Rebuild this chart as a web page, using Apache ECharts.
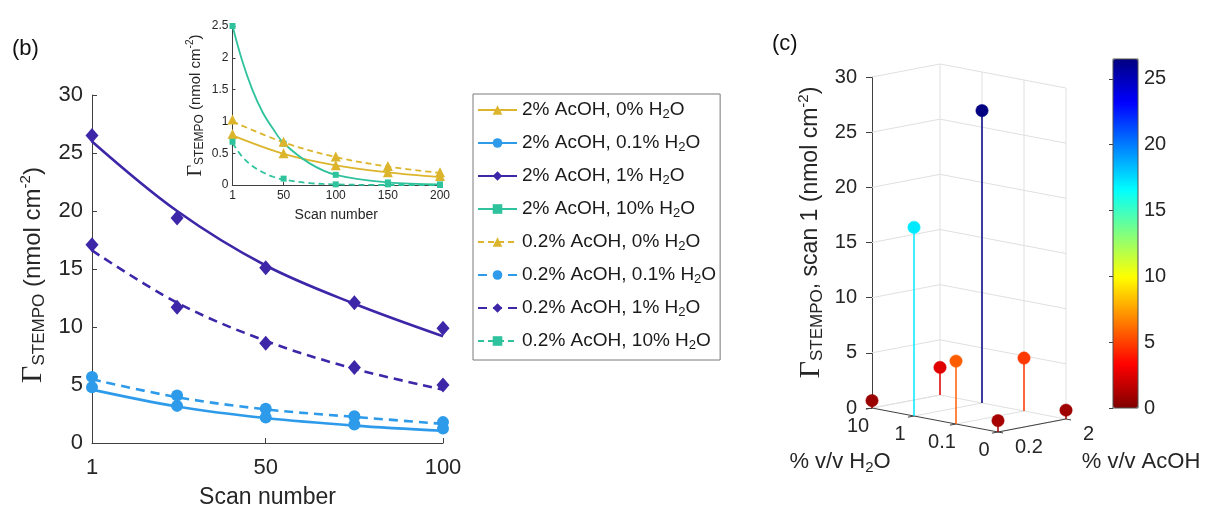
<!DOCTYPE html>
<html><head><meta charset="utf-8">
<script src="https://cdn.jsdelivr.net/npm/echarts@6/dist/echarts.min.js"></script>
<style>html,body{margin:0;padding:0;background:#fff}#c{width:1205px;height:508px}</style>
</head><body><div id="c"></div>
<script>
// ---------------- data ----------------
const legendNames = [
  '2% AcOH, 0% H2O', '2% AcOH, 0.1% H2O', '2% AcOH, 1% H2O', '2% AcOH, 10% H2O',
  '0.2% AcOH, 0% H2O', '0.2% AcOH, 0.1% H2O', '0.2% AcOH, 1% H2O', '0.2% AcOH, 10% H2O'
];
// main panel (b): scans 1..100
const scans = [1, 25, 50, 75, 100];
const mainXTicks = [1, 50, 100];
const meas_2_01 = [4.8, 3.2, 2.2, 1.6, 1.25];
const fit_2_01 = [4.6, 3.15, 2.15, 1.5, 1.05];
const meas_2_1 = [26.5, 19.4, 15.1, 12.1, 9.9];
const fit_2_1 = [26.0, 20.0, 15.3, 12.0, 9.2];
const meas_02_01 = [5.7, 4.1, 2.95, 2.3, 1.8];
const fit_02_01 = [5.5, 3.95, 2.9, 2.25, 1.65];
const meas_02_1 = [17.1, 11.7, 8.6, 6.5, 5.0];
const fit_02_1 = [16.6, 12.1, 8.8, 6.4, 4.6];
// inset: scans 1..200
const insetScans = [1, 50, 100, 150, 200];
const insetXTicks = [1, 50, 100, 150, 200];
const meas_2_0 = [0.80, 0.50, 0.31, 0.20, 0.14];
const fit_2_0 = [0.78, 0.49, 0.31, 0.20, 0.125];
const meas_02_0 = [1.03, 0.68, 0.45, 0.30, 0.20];
const fit_02_0 = [1.0, 0.67, 0.44, 0.29, 0.19];
const meas_2_10 = [2.5, 0.65, 0.16, 0.04, 0.01];
const meas_02_10 = [0.68, 0.10, 0.01, 0.01, 0.0];
const fitScans10 = [1, 10, 20, 30, 40, 50, 75, 100, 150, 200];
const fit_2_10 = [2.5, 1.97, 1.5, 1.14, 0.88, 0.66, 0.34, 0.16, 0.04, 0.01];
const fit_02_10 = [0.66, 0.45, 0.30, 0.20, 0.13, 0.085, 0.03, 0.01, 0.0, 0.0];
// panel (c): scan 1 values
const h2oLevels = ['10', '1', '0.1', '0'];
const acohLevels = ['0.2', '2'];
const scan1_acoh02 = [0.67, 17.1, 5.7, 1.03];
const scan1_acoh2 = [2.5, 26.5, 4.8, 0.8];
const zTicks = [0, 5, 10, 15, 20, 25, 30];
const cbarTicks = [0, 5, 10, 15, 20, 25];
const cbarMax = 26.5;

// ---------------- styling ----------------
const FONT = 'Liberation Sans';
const AX = '#404040';
const TX = '#262626';
const cYellow = '#dcb52c', cBlue = '#2d9bea', cPurple = '#3e26a8', cTeal = '#2ec39c';
const pairs = (xs, ys) => xs.map((x, i) => [x, ys[i]]);

const chart = echarts.init(document.getElementById('c'), null, {renderer: 'canvas', width: 1205, height: 508});

const conds = [
  {name: legendNames[0], g: 1, color: cYellow, sym: 'triangle', size: 10, dash: false, mx: insetScans, m: meas_2_0, fx: insetScans, f: fit_2_0},
  {name: legendNames[1], g: 0, color: cBlue, sym: 'circle', size: 12, dash: false, mx: scans, m: meas_2_01, fx: scans, f: fit_2_01},
  {name: legendNames[2], g: 0, color: cPurple, sym: 'diamond', size: [13, 15], dash: false, mx: scans, m: meas_2_1, fx: scans, f: fit_2_1},
  {name: legendNames[3], g: 1, color: cTeal, sym: 'rect', size: 6, dash: false, mx: insetScans, m: meas_2_10, fx: fitScans10, f: fit_2_10},
  {name: legendNames[4], g: 1, color: cYellow, sym: 'triangle', size: 10, dash: true, mx: insetScans, m: meas_02_0, fx: insetScans, f: fit_02_0},
  {name: legendNames[5], g: 0, color: cBlue, sym: 'circle', size: 12, dash: true, mx: scans, m: meas_02_01, fx: scans, f: fit_02_01},
  {name: legendNames[6], g: 0, color: cPurple, sym: 'diamond', size: [13, 15], dash: true, mx: scans, m: meas_02_1, fx: scans, f: fit_02_1},
  {name: legendNames[7], g: 1, color: cTeal, sym: 'rect', size: 6, dash: true, mx: insetScans, m: meas_02_10, fx: fitScans10, f: fit_02_10}
];

const series = [];
conds.forEach(c => {
  const main = c.g === 0;
  series.push({
    type: 'line', name: c.name, xAxisIndex: c.g, yAxisIndex: c.g,
    data: pairs(c.fx, c.f), smooth: 0.35,
    showSymbol: false, symbol: c.sym, symbolSize: c.size,
    itemStyle: {color: c.color},
    lineStyle: {color: c.color, width: main ? 2.6 : 1.8, type: c.dash ? (main ? [9, 6] : [6, 4]) : 'solid'},
    emphasis: {disabled: true}, z: 2
  });
});
conds.forEach(c => {
  series.push({
    type: 'scatter', name: c.name, xAxisIndex: c.g, yAxisIndex: c.g,
    data: pairs(c.mx, c.m), symbol: c.sym, symbolSize: c.size,
    itemStyle: {color: c.color, opacity: 1}, emphasis: {disabled: true}, z: 3
  });
});

// ---- panel (c): oblique projection of (H2O index u, AcOH index v, value z) ----
const VX = 68, VY = -13, UY = 8;
const proj = (api, u, v, z) => { const p = api.coord([u, z]); return [p[0] + v * VX, p[1] + u * UY + v * VY]; };
const zTop = zTicks[zTicks.length - 1];
const uLast = h2oLevels.length - 1;
const gridGray = '#e0e0e0';

series.push({
  type: 'custom', xAxisIndex: 2, yAxisIndex: 2, silent: true, clip: false, z: 1,
  data: zTicks.map(z => [0, z]),
  renderItem: (p, api) => {
    const z = api.value(1);
    return {type: 'polyline', shape: {points: [proj(api, 0, 0, z), proj(api, 0, 1, z), proj(api, uLast, 1, z)]},
      style: {stroke: gridGray, lineWidth: 1, fill: null}};
  }
});
series.push({
  type: 'custom', xAxisIndex: 2, yAxisIndex: 2, silent: true, clip: false, z: 1,
  data: h2oLevels.map((l, u) => [u, 0]),
  renderItem: (p, api) => {
    const u = api.value(0);
    return {type: 'group', children: [
      {type: 'line', shape: {x1: proj(api, u, 1, 0)[0], y1: proj(api, u, 1, 0)[1], x2: proj(api, u, 1, zTop)[0], y2: proj(api, u, 1, zTop)[1]}, style: {stroke: gridGray, lineWidth: 1}},
      {type: 'line', shape: {x1: proj(api, u, 0, 0)[0], y1: proj(api, u, 0, 0)[1], x2: proj(api, u, 1, 0)[0], y2: proj(api, u, 1, 0)[1]}, style: {stroke: gridGray, lineWidth: 1}}
    ]};
  }
});
// H2O axis
series.push({
  type: 'custom', xAxisIndex: 2, yAxisIndex: 2, silent: true, clip: false, z: 2,
  data: h2oLevels.map((l, u) => [u, 0]),
  renderItem: (p, api) => {
    const u = api.value(0);
    const a = proj(api, u, 0, 0), t = proj(api, u, -0.09, 0);
    const ch = [
      {type: 'line', shape: {x1: a[0], y1: a[1], x2: t[0], y2: t[1]}, style: {stroke: AX, lineWidth: 1}},
      {type: 'text', x: a[0] - 14, y: a[1] + 18, style: {text: h2oLevels[u], fontSize: 20, fontFamily: FONT, fill: TX, align: 'center', verticalAlign: 'middle'}}
    ];
    if (u < uLast) { const b = proj(api, u + 1, 0, 0); ch.push({type: 'line', shape: {x1: a[0], y1: a[1], x2: b[0], y2: b[1]}, style: {stroke: AX, lineWidth: 1}}); }
    return {type: 'group', children: ch};
  }
});
// AcOH axis
series.push({
  type: 'custom', xAxisIndex: 2, yAxisIndex: 2, silent: true, clip: false, z: 2,
  data: acohLevels.map((l, v) => [uLast, 0, v]),
  renderItem: (p, api) => {
    const v = api.value(2);
    const a = proj(api, uLast, v, 0), t = proj(api, uLast + 0.12, v, 0);
    const ch = [
      {type: 'line', shape: {x1: a[0], y1: a[1], x2: t[0], y2: t[1]}, style: {stroke: AX, lineWidth: 1}},
      {type: 'text', x: a[0] + 17, y: a[1] + 15, style: {text: acohLevels[v], fontSize: 20, fontFamily: FONT, fill: TX, align: 'left', verticalAlign: 'middle'}}
    ];
    if (v < acohLevels.length - 1) { const b = proj(api, uLast, v + 1, 0); ch.push({type: 'line', shape: {x1: a[0], y1: a[1], x2: b[0], y2: b[1]}, style: {stroke: AX, lineWidth: 1}}); }
    return {type: 'group', children: ch};
  }
});
// stems
const stemData = [];
scan1_acoh2.forEach((val, u) => stemData.push([u, 1, val]));
scan1_acoh02.forEach((val, u) => stemData.push([u, 0, val]));
const stemIndex = series.length;
series.push({
  type: 'custom', xAxisIndex: 2, yAxisIndex: 2, silent: true, clip: false, z: 5,
  data: stemData,
  renderItem: (p, api) => {
    const u = api.value(0), v = api.value(1), z = api.value(2);
    const b = proj(api, u, v, 0), t = proj(api, u, v, z);
    const col = api.visual('color');
    return {type: 'group', children: [
      {type: 'line', shape: {x1: b[0], y1: b[1], x2: t[0], y2: t[1]}, style: {stroke: col, lineWidth: 1.5}},
      {type: 'circle', shape: {cx: t[0], cy: t[1], r: 6.2}, style: {fill: col, stroke: col, lineWidth: 0.5}}
    ]};
  }
});

const gammaRich = (g, s, t, pp) => ({
  g: {fontFamily: 'Liberation Serif', fontSize: g, lineHeight: g, color: TX},
  s: {fontFamily: FONT, fontSize: s, lineHeight: Math.round(s * 0.55), verticalAlign: 'bottom', color: TX},
  t: {fontFamily: FONT, fontSize: t, lineHeight: g, color: TX},
  p: {fontFamily: FONT, fontSize: pp, lineHeight: Math.round(pp * 0.6), verticalAlign: 'top', color: TX}
});

const axCommon = (fs, margin) => ({
  axisLine: {show: true, lineStyle: {color: AX, width: 1}},
  axisLabel: {fontSize: fs, color: TX, fontFamily: FONT, margin: margin},
  splitLine: {show: false}
});

const option = {
  animation: false,
  backgroundColor: '#fff',
  grid: [
    {left: 92, top: 95, width: 351, height: 348, outerBoundsMode: 'none'},
    {left: 232.5, top: 26, width: 207.5, height: 159, outerBoundsMode: 'none'},
    {left: 872, top: 77, width: 126, height: 331, outerBoundsMode: 'none'},
    {left: 1113, top: 59, width: 25, height: 349, show: true, borderColor: '#505050', borderWidth: 1, backgroundColor: 'transparent', z: 10, outerBoundsMode: 'none'}
  ],
  xAxis: [
    Object.assign(axCommon(22, 14), {gridIndex: 0, type: 'value', min: 1, max: 100,
      axisTick: {show: true, inside: true, length: 5, customValues: mainXTicks, lineStyle: {color: AX}},
      axisLabel: {customValues: mainXTicks, fontSize: 22, color: TX, fontFamily: FONT, margin: 14},
      name: 'Scan number', nameLocation: 'middle', nameGap: 43, nameTextStyle: {fontSize: 23, color: TX, fontFamily: FONT}}),
    Object.assign(axCommon(12, 5), {gridIndex: 1, type: 'value', min: 1, max: 200,
      axisTick: {show: true, inside: true, length: 3, customValues: insetXTicks, lineStyle: {color: AX}},
      axisLabel: {customValues: insetXTicks, fontSize: 12, color: TX, fontFamily: FONT, margin: 5},
      name: 'Scan number', nameLocation: 'middle', nameGap: 23, nameTextStyle: {fontSize: 14, color: TX, fontFamily: FONT}}),
    {gridIndex: 2, type: 'value', min: 0, max: uLast, show: false},
    {gridIndex: 3, type: 'value', min: 0, max: 1, show: false}
  ],
  yAxis: [
    Object.assign(axCommon(22, 9), {gridIndex: 0, type: 'value', min: 0, max: 30, interval: 5,
      axisTick: {show: true, inside: true, length: 5, lineStyle: {color: AX}},
      name: '{g|Γ}{s|STEMPO}{t| (nmol cm}{p|-2}{t|)}', nameLocation: 'middle', nameGap: 44,
      nameTextStyle: {padding: [0, 12, 0, 0], rich: gammaRich(30, 17, 24, 15)}}),
    Object.assign(axCommon(12, 4), {gridIndex: 1, type: 'value', min: 0, max: 2.5, interval: 0.5,
      axisTick: {show: true, inside: true, length: 3, lineStyle: {color: AX}},
      name: '{g|Γ}{s|STEMPO}{t| (nmol cm}{p|-2}{t|)}', nameLocation: 'middle', nameGap: 27,
      nameTextStyle: {rich: gammaRich(20, 12, 15, 10)}}),
    Object.assign(axCommon(20, 15), {gridIndex: 2, type: 'value', min: 0, max: zTop, interval: 5,
      axisTick: {show: true, inside: false, length: 6, lineStyle: {color: AX}},
      name: '{g|Γ}{s|STEMPO}{t|, scan 1 (nmol cm}{p|-2}{t|)}', nameLocation: 'middle', nameGap: 46,
      nameTextStyle: {padding: [0, 0, 0, 20], rich: gammaRich(30, 17, 23, 15)}}),
    {gridIndex: 3, type: 'value', position: 'right', min: 0, max: cbarMax,
      axisLine: {show: false}, splitLine: {show: false},
      axisTick: {show: true, inside: true, length: 4, customValues: cbarTicks, lineStyle: {color: AX}},
      axisLabel: {customValues: cbarTicks, fontSize: 20, color: TX, fontFamily: FONT, margin: 6}}
  ],
  legend: {
    data: legendNames, orient: 'vertical', left: 473, top: 94,
    itemWidth: 39, itemHeight: 12, itemGap: 11, padding: [5, 4, 8, 4],
    borderColor: '#7a7a7a', borderWidth: 1, backgroundColor: '#fff', selectedMode: false,
    formatter: n => n.replace('H2O', 'H{s|2}O'),
    textStyle: {fontSize: 19, fontFamily: FONT, color: '#1a1a1a', lineHeight: 22,
      rich: {s: {fontSize: 13, fontFamily: FONT, color: '#1a1a1a', lineHeight: 8, verticalAlign: 'bottom'}}}
  },
  visualMap: {
    type: 'continuous', seriesIndex: stemIndex, dimension: 2, min: 0, max: cbarMax,
    left: 1113, top: 59, itemWidth: 25, itemHeight: 349, padding: 0, calculable: false,
    hoverLink: false, z: 4,
    inRange: {color: ['#800000', '#ff0000', '#ff8000', '#ffff00', '#80ff80', '#00ffff', '#0080ff', '#0000ff', '#000080']}
  },
  graphic: [
    {type: 'text', left: 12, top: 38, style: {text: '(b)', fontSize: 22, fontFamily: FONT, fill: '#111'}},
    {type: 'text', left: 772, top: 33, style: {text: '(c)', fontSize: 22, fontFamily: FONT, fill: '#111'}},
    {type: 'text', x: 840, y: 462, style: {text: '% v/v H{s|2}O', fontSize: 22, fontFamily: FONT, fill: TX, lineHeight: 26, align: 'center', verticalAlign: 'middle',
      rich: {s: {fontSize: 15, fontFamily: FONT, fill: TX, lineHeight: 8, verticalAlign: 'bottom'}}}},
    {type: 'text', x: 1141, y: 462, style: {text: '% v/v AcOH', fontSize: 22, fontFamily: FONT, fill: TX, align: 'center', verticalAlign: 'middle'}}
  ],
  series: series
};
chart.setOption(option);
</script>
</body></html>
